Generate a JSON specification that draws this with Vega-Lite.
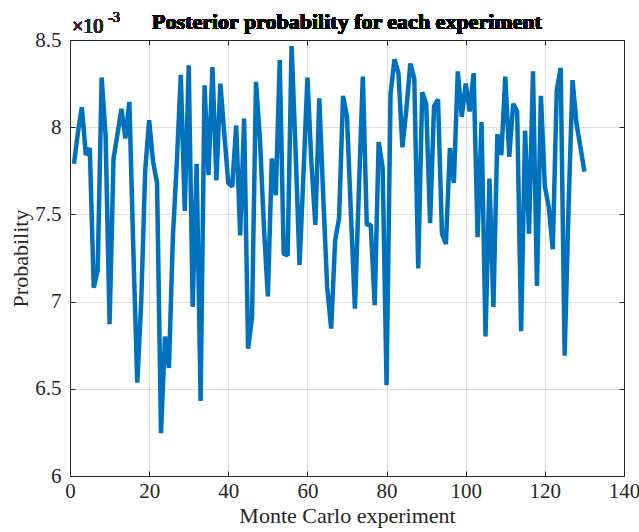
{
  "$schema": "https://vega.github.io/schema/vega-lite/v6.json",
  "width": 554,
  "height": 436,
  "autosize": {"type": "none"},
  "padding": {"left": 70, "top": 40, "right": 15, "bottom": 56},
  "background": "white",
  "config": {
    "view": {"stroke": "#262626", "strokeWidth": 1},
    "axis": {
      "labelFont": "Liberation Serif",
      "labelFontSize": 21,
      "labelColor": "#262626",
      "titleFont": "Liberation Serif",
      "titleFontSize": 22,
      "titleFontWeight": "normal",
      "titleColor": "#262626",
      "domainColor": "#262626",
      "tickColor": "#262626",
      "gridColor": "#262626",
      "gridOpacity": 0.15,
      "tickSize": -5
    }
  },
  "data": {
    "values": [
      {"experiment": 1, "p": 0.00779}, {"experiment": 2, "p": 0.00797}, {"experiment": 3, "p": 0.008115},
      {"experiment": 4, "p": 0.00784}, {"experiment": 5, "p": 0.00788}, {"experiment": 6, "p": 0.00708},
      {"experiment": 7, "p": 0.00718}, {"experiment": 8, "p": 0.008285}, {"experiment": 9, "p": 0.00795},
      {"experiment": 10, "p": 0.00687}, {"experiment": 11, "p": 0.00782}, {"experiment": 12, "p": 0.00796},
      {"experiment": 13, "p": 0.008105}, {"experiment": 14, "p": 0.007935}, {"experiment": 15, "p": 0.008145},
      {"experiment": 16, "p": 0.0073}, {"experiment": 17, "p": 0.006535}, {"experiment": 18, "p": 0.007},
      {"experiment": 19, "p": 0.00775}, {"experiment": 20, "p": 0.00804}, {"experiment": 21, "p": 0.0078},
      {"experiment": 22, "p": 0.00768}, {"experiment": 23, "p": 0.006245}, {"experiment": 24, "p": 0.0068},
      {"experiment": 25, "p": 0.00662}, {"experiment": 26, "p": 0.00737}, {"experiment": 27, "p": 0.0078},
      {"experiment": 28, "p": 0.0083}, {"experiment": 29, "p": 0.00752}, {"experiment": 30, "p": 0.008355},
      {"experiment": 31, "p": 0.00697}, {"experiment": 32, "p": 0.00779}, {"experiment": 33, "p": 0.00643},
      {"experiment": 34, "p": 0.00824}, {"experiment": 35, "p": 0.007725}, {"experiment": 36, "p": 0.008345},
      {"experiment": 37, "p": 0.007695}, {"experiment": 38, "p": 0.00825}, {"experiment": 39, "p": 0.00796},
      {"experiment": 40, "p": 0.00768}, {"experiment": 41, "p": 0.00766}, {"experiment": 42, "p": 0.00801},
      {"experiment": 43, "p": 0.00738}, {"experiment": 44, "p": 0.00805}, {"experiment": 45, "p": 0.00673},
      {"experiment": 46, "p": 0.00691}, {"experiment": 47, "p": 0.00826}, {"experiment": 48, "p": 0.00793},
      {"experiment": 49, "p": 0.00743}, {"experiment": 50, "p": 0.00703}, {"experiment": 51, "p": 0.00782},
      {"experiment": 52, "p": 0.00761}, {"experiment": 53, "p": 0.008385}, {"experiment": 54, "p": 0.007275},
      {"experiment": 55, "p": 0.007265}, {"experiment": 56, "p": 0.008465}, {"experiment": 57, "p": 0.00787},
      {"experiment": 58, "p": 0.00721}, {"experiment": 59, "p": 0.00773}, {"experiment": 60, "p": 0.008285},
      {"experiment": 61, "p": 0.0078}, {"experiment": 62, "p": 0.00744}, {"experiment": 63, "p": 0.008165},
      {"experiment": 64, "p": 0.0076}, {"experiment": 65, "p": 0.00708}, {"experiment": 66, "p": 0.006845},
      {"experiment": 67, "p": 0.00735}, {"experiment": 68, "p": 0.00748}, {"experiment": 69, "p": 0.00818},
      {"experiment": 70, "p": 0.00806}, {"experiment": 71, "p": 0.0075}, {"experiment": 72, "p": 0.00696},
      {"experiment": 73, "p": 0.00764}, {"experiment": 74, "p": 0.00829}, {"experiment": 75, "p": 0.00744},
      {"experiment": 76, "p": 0.00744}, {"experiment": 77, "p": 0.00698}, {"experiment": 78, "p": 0.007915},
      {"experiment": 79, "p": 0.00777}, {"experiment": 80, "p": 0.00652}, {"experiment": 81, "p": 0.00819},
      {"experiment": 82, "p": 0.00839}, {"experiment": 83, "p": 0.00831}, {"experiment": 84, "p": 0.007885},
      {"experiment": 85, "p": 0.0081}, {"experiment": 86, "p": 0.008365}, {"experiment": 87, "p": 0.00828},
      {"experiment": 88, "p": 0.00719}, {"experiment": 89, "p": 0.0082}, {"experiment": 90, "p": 0.008135},
      {"experiment": 91, "p": 0.00745}, {"experiment": 92, "p": 0.00812}, {"experiment": 93, "p": 0.00816},
      {"experiment": 94, "p": 0.00739}, {"experiment": 95, "p": 0.00733}, {"experiment": 96, "p": 0.00788},
      {"experiment": 97, "p": 0.00768}, {"experiment": 98, "p": 0.00832}, {"experiment": 99, "p": 0.00806},
      {"experiment": 100, "p": 0.00825}, {"experiment": 101, "p": 0.00809}, {"experiment": 102, "p": 0.00831},
      {"experiment": 103, "p": 0.00737}, {"experiment": 104, "p": 0.00803}, {"experiment": 105, "p": 0.0068},
      {"experiment": 106, "p": 0.007705}, {"experiment": 107, "p": 0.00697}, {"experiment": 108, "p": 0.00796},
      {"experiment": 109, "p": 0.00784}, {"experiment": 110, "p": 0.00829}, {"experiment": 111, "p": 0.00783},
      {"experiment": 112, "p": 0.008135}, {"experiment": 113, "p": 0.00809}, {"experiment": 114, "p": 0.00683},
      {"experiment": 115, "p": 0.00798}, {"experiment": 116, "p": 0.00739}, {"experiment": 117, "p": 0.00832},
      {"experiment": 118, "p": 0.00709}, {"experiment": 119, "p": 0.00818}, {"experiment": 120, "p": 0.00766},
      {"experiment": 121, "p": 0.00754}, {"experiment": 122, "p": 0.0073}, {"experiment": 123, "p": 0.00821},
      {"experiment": 124, "p": 0.00834}, {"experiment": 125, "p": 0.00669}, {"experiment": 126, "p": 0.00755},
      {"experiment": 127, "p": 0.00827}, {"experiment": 128, "p": 0.00802}, {"experiment": 129, "p": 0.007885},
      {"experiment": 130, "p": 0.007745}
    ]
  },
  "layer": [
    {
      "mark": {"type": "line", "color": "#0072BD", "strokeWidth": 4.5, "strokeJoin": "bevel"},
      "encoding": {
        "x": {
          "field": "experiment", "type": "quantitative",
          "scale": {"domain": [0, 140], "nice": false, "zero": false},
          "axis": {"orient": "bottom", "values": [0, 20, 40, 60, 80, 100, 120, 140], "title": "Monte Carlo experiment", "labelPadding": 9, "titlePadding": 4, "grid": true, "labelFlush": false}
        },
        "y": {
          "field": "p", "type": "quantitative",
          "scale": {"domain": [0.006, 0.0085], "nice": false, "zero": false},
          "axis": {"orient": "left", "values": [0.006, 0.0065, 0.007, 0.0075, 0.008, 0.0085], "labelExpr": "format(datum.value*1000, '.2~f')", "title": "Probability", "labelPadding": 14, "titlePadding": 2, "grid": true, "labelFlush": false}
        }
      }
    },
    {
      "mark": {"type": "line", "opacity": 0},
      "encoding": {
        "x": {
          "field": "experiment", "type": "quantitative",
          "axis": {"orient": "top", "values": [0, 20, 40, 60, 80, 100, 120, 140], "labels": false, "title": null, "grid": false}
        },
        "y": {
          "field": "p", "type": "quantitative",
          "axis": {"orient": "right", "values": [0.006, 0.0065, 0.007, 0.0075, 0.008, 0.0085], "labels": false, "title": null, "grid": false}
        }
      }
    },
    {
      "mark": {"type": "text", "text": "Posterior probability for each experiment", "align": "center", "baseline": "bottom", "dy": -6, "font": "Liberation Serif", "fontSize": 22, "fontWeight": "bold", "color": "#000000"},
      "encoding": {
        "x": {"datum": 70, "type": "quantitative", "axis": null},
        "y": {"datum": 0.0085, "type": "quantitative", "axis": null}
      }
    },
    {
      "mark": {"type": "text", "text": "×10", "align": "left", "baseline": "bottom", "dx": 2, "dy": -3, "font": "Liberation Serif", "fontSize": 20, "color": "#262626"},
      "encoding": {
        "x": {"datum": 0, "type": "quantitative", "axis": null},
        "y": {"datum": 0.0085, "type": "quantitative", "axis": null}
      }
    },
    {
      "mark": {"type": "text", "text": "-3", "align": "left", "baseline": "bottom", "dx": 38, "dy": -15, "font": "Liberation Serif", "fontSize": 14, "color": "#262626"},
      "encoding": {
        "x": {"datum": 0, "type": "quantitative", "axis": null},
        "y": {"datum": 0.0085, "type": "quantitative", "axis": null}
      }
    }
  ],
  "resolve": {"axis": {"x": "independent", "y": "independent"}}
}
